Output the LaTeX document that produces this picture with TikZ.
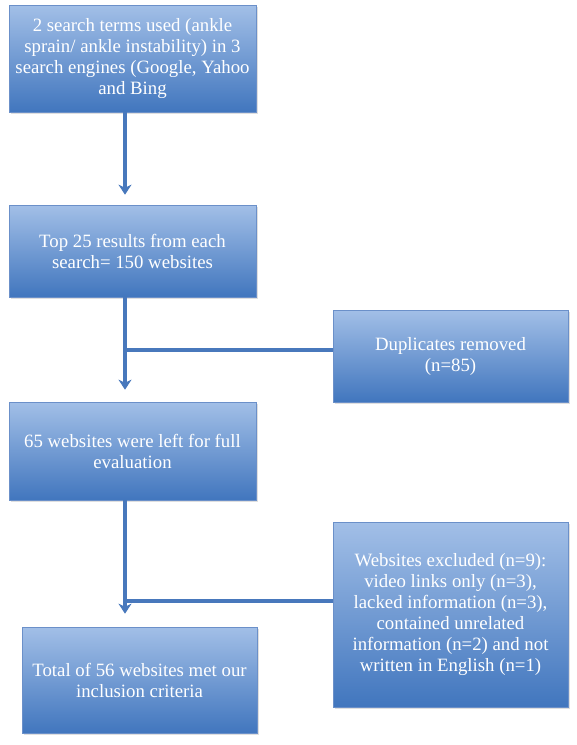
\documentclass[tikz,border=0pt]{standalone}
\usepackage{fontspec}
\setmainfont{Liberation Serif}
\usepackage{tikz}
\usetikzlibrary{arrows.meta,shadows}
\definecolor{boxtop}{HTML}{A2BFE7}
\definecolor{boxbot}{HTML}{4176BE}
\definecolor{boxline}{HTML}{6B90C9}
\definecolor{flowblue}{HTML}{4878BC}
\tikzset{
  stepbox/.style={rectangle, draw=boxline, line width=0.6pt,
    top color=boxtop, bottom color=boxbot,
    drop shadow={shadow xshift=1.5pt, shadow yshift=-1.5pt, opacity=0.25},
    text=white, align=center, inner sep=2pt,
    font=\fontsize{18.8}{21}\selectfont},
  flow/.style={draw=flowblue, line width=3.2pt, -{Stealth[length=10pt,width=13pt,inset=3pt]}},
  branch/.style={draw=flowblue, line width=3.2pt}
}
\begin{document}
\begin{tikzpicture}[x=1pt,y=-1pt]
\useasboundingbox (0,0) rectangle (577,745);
% boxes of the main column
\node[stepbox, minimum width=247pt, minimum height=107pt] (terms) at (132.5,58.5)
  {2 search terms used (ankle\\sprain/ ankle instability) in 3\\search engines (Google, Yahoo\\and Bing};
\node[stepbox, minimum width=247pt, minimum height=92pt] (top) at (132.5,251)
  {Top 25 results from each\\search= 150 websites};
\node[stepbox, minimum width=247pt, minimum height=98pt] (left) at (132.5,451)
  {65 websites were left for full\\evaluation};
\node[stepbox, minimum width=235pt, minimum height=106pt] (total) at (139.5,680)
  {Total of 56 websites met our\\inclusion criteria};
% boxes on the right
\node[stepbox, minimum width=235pt, minimum height=92pt] (dupl) at (450.5,356)
  {Duplicates removed\\(n=85)};
\node[stepbox, minimum width=235pt, minimum height=185pt] (excl) at (450.5,614.5)
  {Websites excluded (n=9):\\video links only (n=3),\\lacked information (n=3),\\contained unrelated\\information (n=2) and not\\written in English (n=1)};
% connectors
\coordinate (axis) at (125,0);
\coordinate (j1) at (125,350);
\coordinate (j2) at (125,601);
\draw[flow, shorten >=10pt] (terms.south -| axis) -- (top.north -| axis);
\draw[flow, shorten >=12pt] (top.south -| axis) -- (left.north -| axis);
\draw[flow, shorten >=13pt] (left.south -| axis) -- (total.north -| axis);
\draw[branch] (j1) -- (dupl.west |- j1);
\draw[branch] (j2) -- (excl.west |- j2);
\end{tikzpicture}
\end{document}
